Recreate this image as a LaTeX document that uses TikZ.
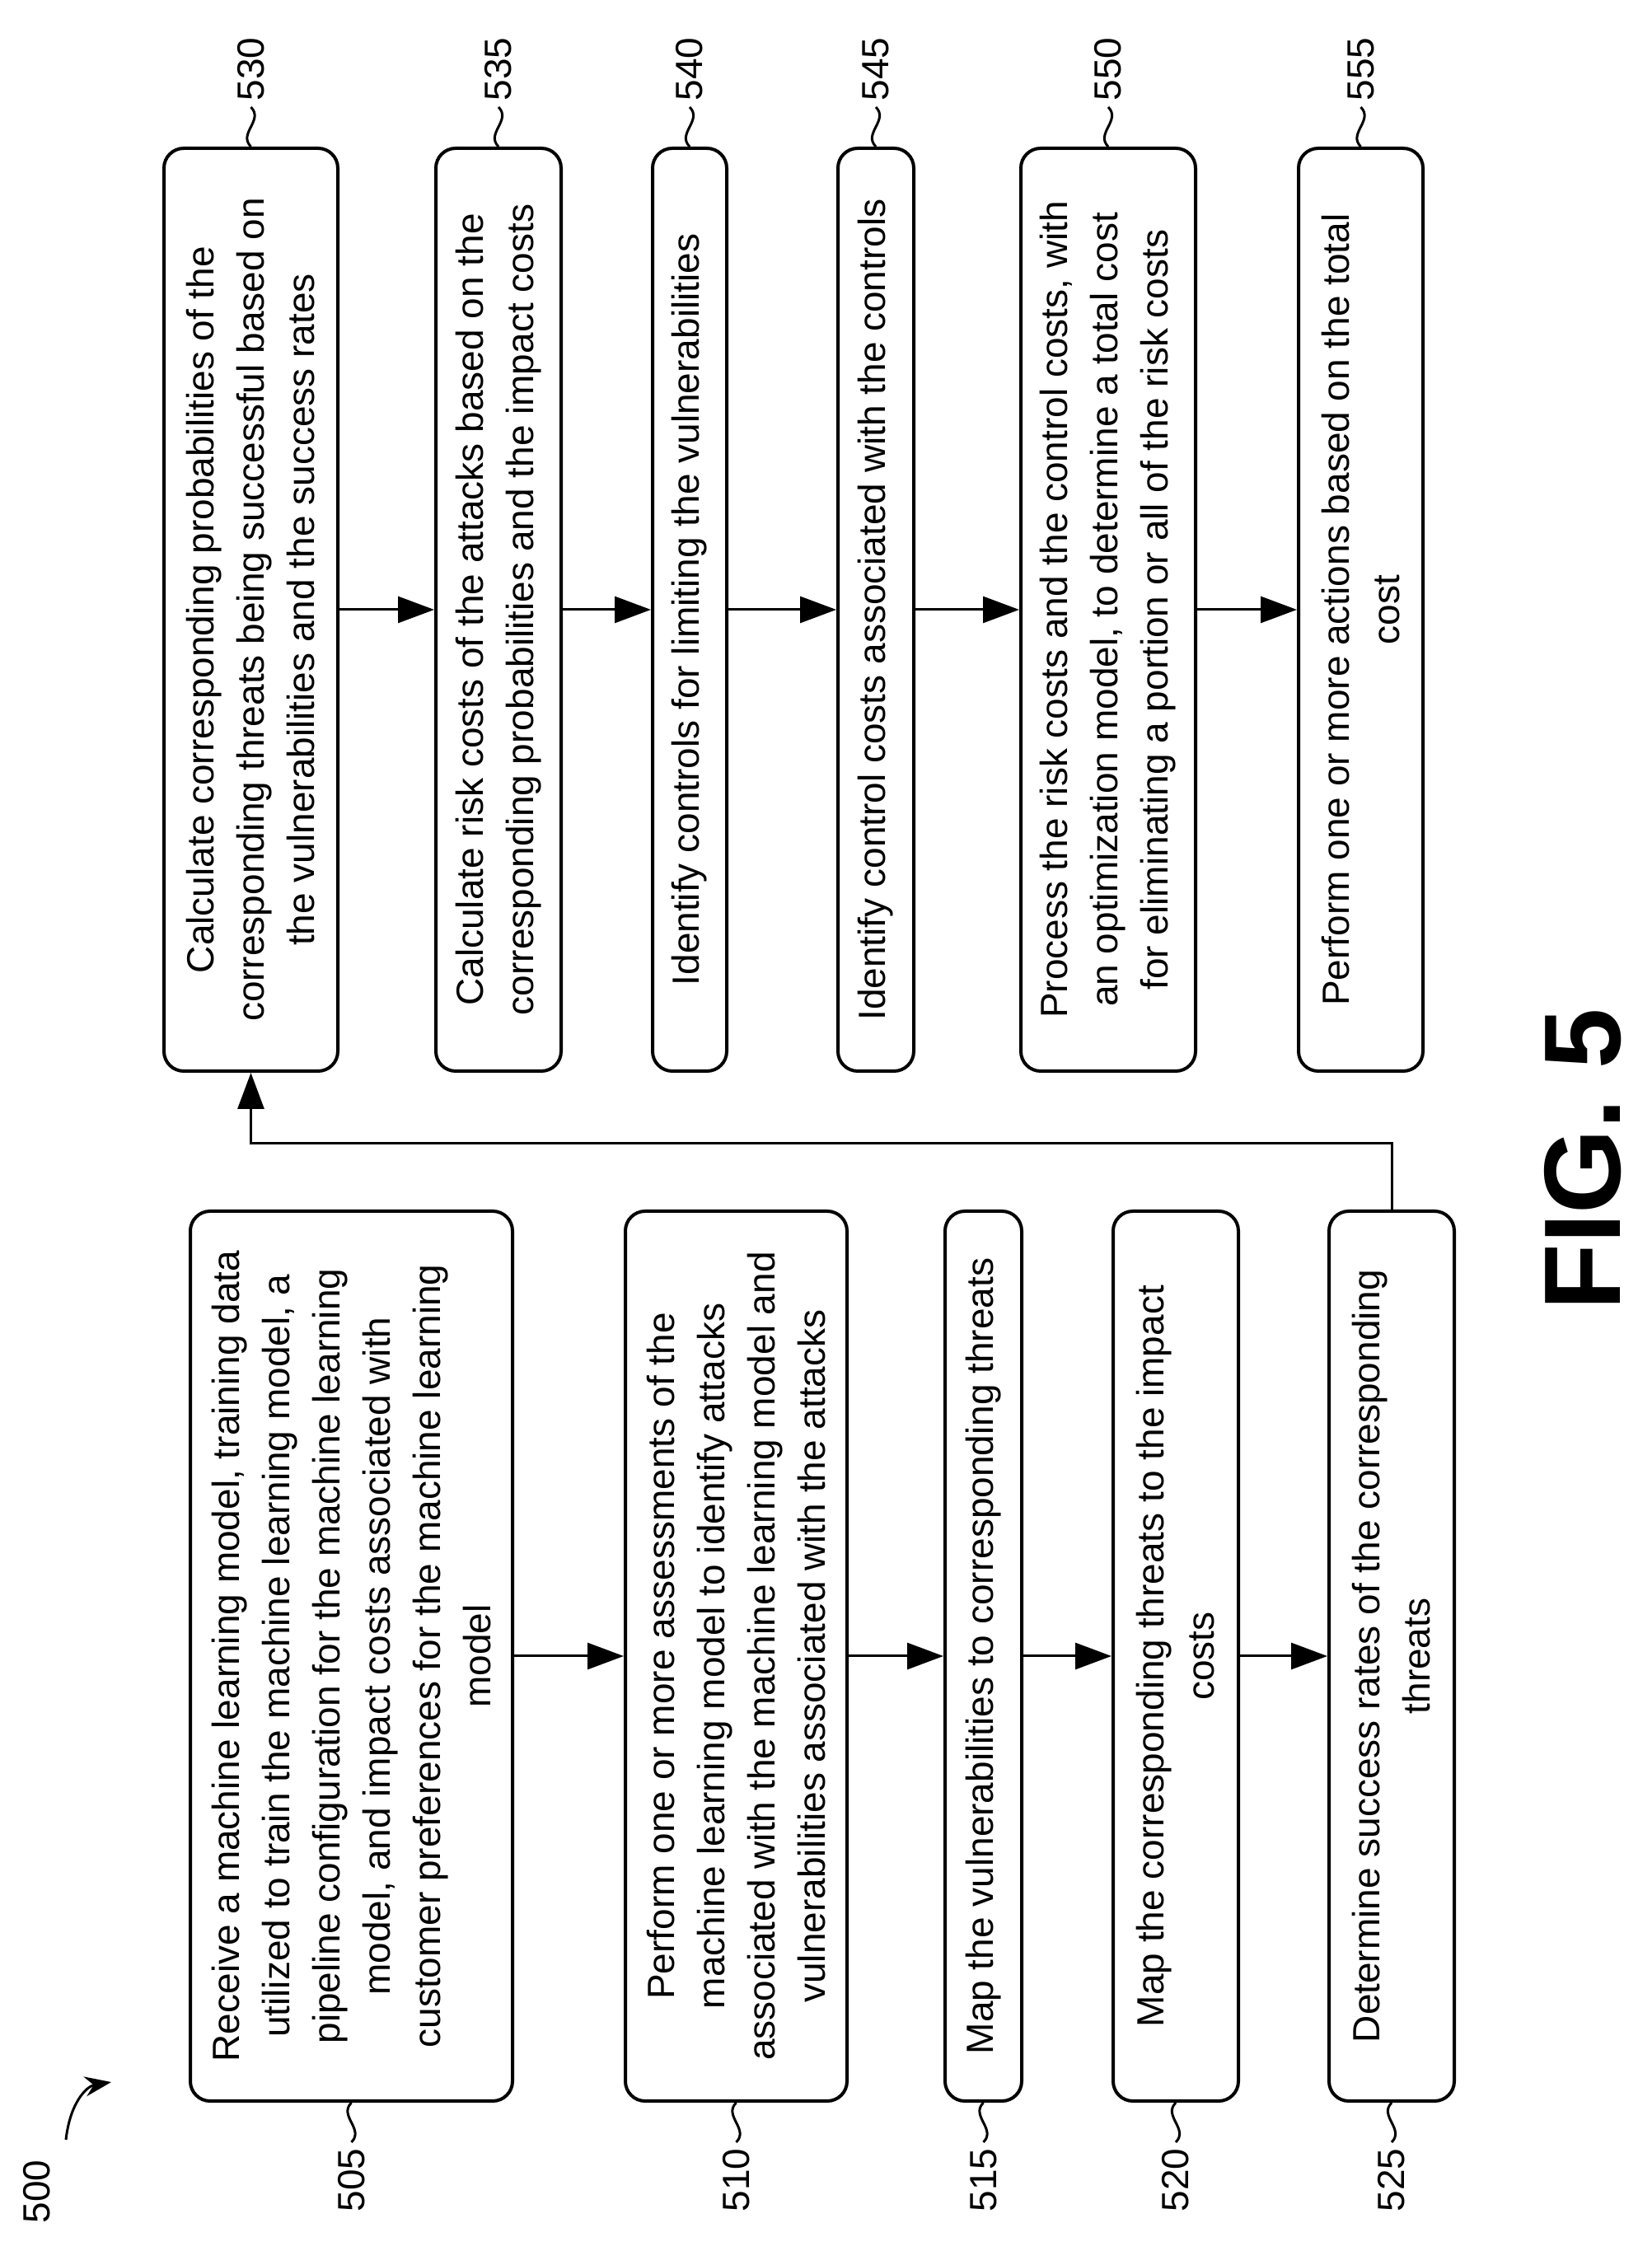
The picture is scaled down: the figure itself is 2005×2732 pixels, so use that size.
\documentclass[tikz,border=0pt]{standalone}
\usepackage{fontspec}
\setmainfont{Liberation Sans}
\usetikzlibrary{arrows.meta}
\begin{document}
\begin{tikzpicture}[x=0.5pt,y=0.5pt,
  box/.style={draw,line width=2pt,rounded corners=12pt,rotate=90,align=center,
    font=\fontsize{23}{30.5}\selectfont,inner sep=0pt},
  rbox/.style={box,minimum width=560pt},
  lbox/.style={box,minimum width=540pt},
  arr/.style={line width=1.5pt,-{Triangle[length=22pt,width=16pt]}},
  tl/.style={line width=1.5pt},
  num/.style={rotate=90,font=\fontsize{23}{26}\selectfont,inner sep=3pt}]
\useasboundingbox (0,0) rectangle (2005,2732);
% right column
\node[rbox,minimum height=105.5pt] (b530) at (304.5,1992) {Calculate corresponding probabilities of the\\corresponding threats being successful based on\\the vulnerabilities and the success rates};
\node[rbox,minimum height=76pt] (b535) at (605,1992) {Calculate risk costs of the attacks based on the\\corresponding probabilities and the impact costs};
\node[rbox,minimum height=45pt] (b540) at (837,1992) {Identify controls for limiting the vulnerabilities};
\node[rbox,minimum height=46pt] (b545) at (1063,1992) {Identify control costs associated with the controls};
\node[rbox,minimum height=106pt] (b550) at (1345,1992) {Process the risk costs and the control costs, with\\an optimization model, to determine a total cost\\for eliminating a portion or all of the risk costs};
\node[rbox,minimum height=75.5pt] (b555) at (1651.5,1992) {Perform one or more actions based on the total\\cost};
% left column
\node[lbox,minimum height=195.5pt] (b505) at (426.5,722) {Receive a machine learning model, training data\\utilized to train the machine learning model, a\\pipeline configuration for the machine learning\\model, and impact costs associated with\\customer preferences for the machine learning\\model};
\node[lbox,minimum height=134.5pt] (b510) at (893.5,722) {Perform one or more assessments of the\\machine learning model to identify attacks\\associated with the machine learning model and\\vulnerabilities associated with the attacks};
\node[lbox,minimum height=46.5pt] (b515) at (1193.5,722) {Map the vulnerabilities to corresponding threats};
\node[lbox,minimum height=76pt] (b520) at (1427,722) {Map the corresponding threats to the impact\\costs};
\node[lbox,minimum height=76pt] (b525) at (1689,722) {Determine success rates of the corresponding\\threats};
% arrows
\draw[arr] (b505) -- (b510);
\draw[arr] (b510) -- (b515);
\draw[arr] (b515) -- (b520);
\draw[arr] (b520) -- (b525);
\draw[arr] (b530) -- (b535);
\draw[arr] (b535) -- (b540);
\draw[arr] (b540) -- (b545);
\draw[arr] (b545) -- (b550);
\draw[arr] (b550) -- (b555);
\draw[arr] (b525.east) -- ++(0,80) -| (b530.west);
% reference labels
\foreach \n in {530,535,540,545,550,555}{
  \draw[tl] (b\n.east) .. controls +(-16,16) and +(16,-16) .. ++(0,48) node[num,anchor=west] {\n};
}
\foreach \n in {505,510,515,520,525}{
  \draw[tl] (b\n.west) .. controls +(-16,-16) and +(16,16) .. ++(0,-48) node[num,anchor=east] {\n};
}
\node[num,anchor=center] (l500) at (45,72) {500};
\coordinate (a500s) at (80,135);
\coordinate (a500e) at (135,205);
\draw[line width=1.5pt,-{Stealth[length=16pt,width=12pt]}] (a500s) .. controls (85,180) and (105,200) .. (a500e);
\node[rotate=90,font=\bfseries\fontsize{66}{70}\selectfont] (fig) at (1921,1325) {FIG. 5};
\end{tikzpicture}
\end{document}
